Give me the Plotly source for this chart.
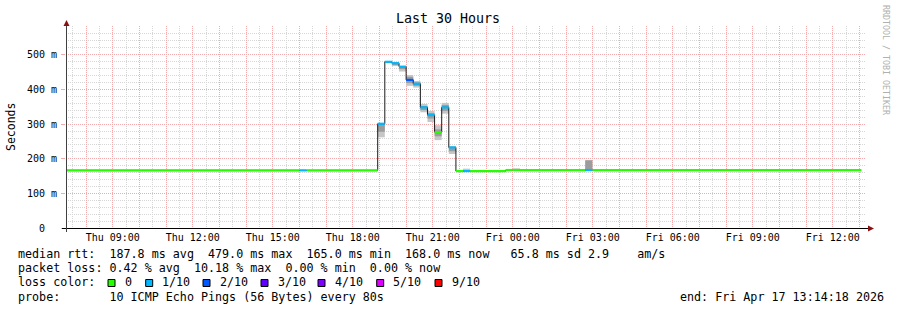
import plotly.graph_objects as go
import pandas as pd

# ---------------- data ----------------
bin_edges = [
    "2026-04-16 07:14:42", "2026-04-16 16:00:00", "2026-04-16 16:16:00",
    "2026-04-16 18:56:00", "2026-04-16 19:12:00", "2026-04-16 19:28:00",
    "2026-04-16 19:44:00", "2026-04-16 20:00:00", "2026-04-16 20:16:00",
    "2026-04-16 20:32:00", "2026-04-16 20:48:00", "2026-04-16 21:04:00",
    "2026-04-16 21:20:00", "2026-04-16 21:36:00", "2026-04-16 21:52:00",
    "2026-04-16 22:08:00", "2026-04-16 22:24:00", "2026-04-16 23:44:00",
    "2026-04-17 00:00:00", "2026-04-17 00:16:00", "2026-04-17 02:43:00",
    "2026-04-17 02:59:00", "2026-04-17 13:04:00",
]
median_ms = [167, 167, 167, 301, 479, 475, 465, 427, 416, 348, 326,
             277, 348, 233, 165, 165, 165, 168, 168, 168, 168, 168]
loss_idx = [0, 1, 0, 1, 1, 1, 1, 2, 1, 1, 1,
            0, 1, 1, 0, 1, 0, 0, 0, 0, 1, 0]
smoke_lo = [None, None, None, 262, 476, 467, 451, 410, 405, 334, 306,
            254, 330, 214, None, 163, None, None, 168, None, 168, None]
smoke_hi = [None, None, None, 301, 480, 476, 467, 441, 424, 358, 338,
            297, 361, 236, None, 172, None, None, 173, None, 196, None]
core_lo = [None, None, None, 278, None, 470, 458, 418, 410, 340, 316,
           265, 338, 222, None, None, None, None, None, None, 168, None]
core_hi = [None, None, None, 301, None, 475, 466, 436, 420, 352, 332,
           285, 355, 234, None, None, None, None, None, None, 196, None]

loss_labels = ["0", "1/10", "2/10", "3/10", "4/10", "5/10", "9/10"]
loss_colors = ["#26ff00", "#00b8ff", "#0059ff", "#5e00ff", "#7e00ff", "#dd00ff", "#ff0000"]

y_tickvals = [0, 100, 200, 300, 400, 500]
y_ticktext = ["0\u00a0\u00a0", "100 m", "200 m", "300 m", "400 m", "500 m"]
y_range = [-1.44, 581.9]

x_start = "2026-04-16 07:14:42"
x_end = "2026-04-17 13:14:42"

title_text = "Last 30 Hours"
y_title = "Seconds"
stat_lines = [
    "median rtt:  187.8 ms avg  479.0 ms max  165.0 ms min  168.0 ms now   65.8 ms sd 2.9    am/s",
    "packet loss: 0.42 % avg  10.18 % max  0.00 % min  0.00 % now",
    "loss color:",
    "probe:       10 ICMP Echo Pings (56 Bytes) every 80s",
]
end_text = "end: Fri Apr 17 13:14:18 2026"
watermark = "RRDTOOL / TOBI OETIKER"

# ---------------- layout geometry (pixels) ----------------
W, H = 897, 310
PL, PR, PT, PB = 66, 866, 26, 229
MONO = "DejaVu Sans Mono"


def px(x):
    return (x - PL) / (PR - PL)


def py(y):
    return (PB - y) / (PB - PT)


t = pd.to_datetime(bin_edges)
starts = list(t[:-1])
dur_ms = [(t[i + 1] - t[i]).total_seconds() * 1000 for i in range(len(t) - 1)]

fig = go.Figure()


def smoke_trace(lo, hi, color):
    ys = [None if (a is None or b is None) else b - a for a, b in zip(lo, hi)]
    return go.Bar(x=starts, y=ys, base=lo, width=dur_ms, offset=0,
                  marker=dict(color=color, line=dict(width=0)),
                  hoverinfo="skip", showlegend=False)


fig.add_trace(smoke_trace(smoke_lo, smoke_hi, "#c6c6c6"))
fig.add_trace(smoke_trace(core_lo, core_hi, "#9c9c9c"))

# thin black median step line
fig.add_trace(go.Scatter(x=list(t), y=median_ms + [median_ms[-1]], mode="lines",
                         line=dict(color="#1a1a1a", width=1, shape="hv"),
                         hoverinfo="skip", showlegend=False))

# coloured median segments by loss
for k, col in enumerate(loss_colors):
    xs, ys = [], []
    for i, m in enumerate(median_ms):
        if loss_idx[i] == k:
            xs += [t[i], t[i + 1], None]
            ys += [m, m, None]
    if xs:
        fig.add_trace(go.Scatter(x=xs, y=ys, mode="lines",
                                 line=dict(color=col, width=2.2),
                                 hoverinfo="skip", showlegend=False))

# invisible traces carrying the overlay axes (labels / hourly grid)
for ax in ("x2", "x3"):
    fig.add_trace(go.Scatter(x=[x_start], y=[0], xaxis=ax, mode="markers",
                             marker=dict(opacity=0), hoverinfo="skip", showlegend=False))

RED = "#f4aaaa"
GRAY = "#d6d6d6"
DOT = "1px,1px"
T0 = "2026-04-16 00:00:00"

fig.update_layout(
    width=W, height=H,
    margin=dict(l=PL, r=W - PR, t=PT, b=H - PB, pad=0),
    paper_bgcolor="white", plot_bgcolor="white",
    showlegend=False, barmode="overlay",
    font=dict(family=MONO, size=10, color="#000000"),
    # main axis: half-hour grey grid
    xaxis=dict(type="date", range=[x_start, x_end], tickmode="linear",
               dtick=1800000, tick0=T0, showticklabels=False, ticks="",
               showgrid=True, gridcolor=GRAY, griddash=DOT, gridwidth=1,
               showline=False, zeroline=False, fixedrange=True),
    # overlay: hourly red grid
    xaxis3=dict(type="date", range=[x_start, x_end], overlaying="x", anchor="y",
                tickmode="linear", dtick=3600000, tick0=T0, showticklabels=False,
                ticks="", showgrid=True, gridcolor=RED, griddash=DOT, gridwidth=1,
                showline=False, zeroline=False, fixedrange=True),
    # overlay: 3-hourly labels
    xaxis2=dict(type="date", range=[x_start, x_end], overlaying="x", anchor="y",
                side="bottom", tickmode="linear", dtick=10800000, tick0=T0,
                tickformat="%a %H:%M", showgrid=False, ticks="", showline=False,
                zeroline=False, tickfont=dict(family=MONO, size=10, color="#000000"),
                ticklabelstandoff=1, fixedrange=True),
    yaxis=dict(range=y_range, tickmode="array", tickvals=y_tickvals,
               ticktext=y_ticktext, ticks="outside", ticklen=4, tickcolor=RED,
               tickwidth=1, showgrid=True, gridcolor=RED, griddash=DOT, gridwidth=1,
               minor=dict(dtick=20, tick0=0, showgrid=True, gridcolor=GRAY,
                          griddash=DOT, gridwidth=1, ticks=""),
               showline=False, zeroline=False,
               tickfont=dict(family=MONO, size=10, color="#000000"),
               ticklabelstandoff=2, fixedrange=True),
)

ARROW = "#8b1010"
shapes = [
    dict(type="line", xref="paper", yref="paper", x0=px(62), x1=px(869),
         y0=py(228.5), y1=py(228.5), line=dict(color="#000000", width=1), layer="above"),
    dict(type="line", xref="paper", yref="paper", x0=px(66.5), x1=px(66.5),
         y0=py(232), y1=py(25), line=dict(color="#404040", width=1), layer="above"),
    dict(type="path", xref="paper", yref="paper",
         path=f"M {px(868)},{py(225.5)} L {px(874)},{py(228.5)} L {px(868)},{py(231.5)} Z",
         fillcolor=ARROW, line=dict(color=ARROW, width=0), layer="above"),
    dict(type="path", xref="paper", yref="paper",
         path=f"M {px(63.5)},{py(26)} L {px(66.5)},{py(20)} L {px(69.5)},{py(26)} Z",
         fillcolor=ARROW, line=dict(color=ARROW, width=0), layer="above"),
]

annotations = [
    dict(text=title_text, x=px(448), y=py(19), xref="paper", yref="paper",
         xanchor="center", yanchor="middle", showarrow=False,
         font=dict(family=MONO, size=13.3, color="#000000")),
    dict(text=y_title, x=px(11), y=py(127), xref="paper", yref="paper",
         xanchor="center", yanchor="middle", textangle=-90, showarrow=False,
         font=dict(family=MONO, size=11.5, color="#000000")),
    dict(text=watermark, x=px(886), y=py(60), xref="paper", yref="paper",
         xanchor="center", yanchor="middle", textangle=90, showarrow=False,
         font=dict(family=MONO, size=8.3, color="#b0b0b0")),
    dict(text=end_text, x=px(678), y=py(296.5), xref="paper", yref="paper",
         xanchor="left", yanchor="middle", showarrow=False,
         font=dict(family=MONO, size=11.7, color="#000000")),
]
row_y = [254.3, 268.3, 282.3, 296.5]
for line, yy in zip(stat_lines, row_y):
    annotations.append(dict(text=line.replace(" ", "\u00a0"), x=px(15.5), y=py(yy),
                            xref="paper", yref="paper", xanchor="left",
                            yanchor="middle", showarrow=False,
                            font=dict(family=MONO, size=11.7, color="#000000")))

box_x = [108, 145.7, 203, 261, 318, 376.7, 435]
for bx, lab, col in zip(box_x, loss_labels, loss_colors):
    shapes.append(dict(type="rect", xref="paper", yref="paper",
                       x0=px(bx), x1=px(bx + 7), y0=py(286.5), y1=py(279.5),
                       fillcolor=col, line=dict(color="#000000", width=1)))
    annotations.append(dict(text=lab, x=px(bx + 14.5), y=py(282.3), xref="paper",
                            yref="paper", xanchor="left", yanchor="middle",
                            showarrow=False,
                            font=dict(family=MONO, size=11.7, color="#000000")))

fig.update_layout(shapes=shapes, annotations=annotations)

# render the dotted grid without anti-aliasing, like the pixel-snapped original
crisp_js = """
var gd = document.getElementById('{plot_id}');
function crisp() {
  gd.querySelectorAll('.gridlayer path, .minor-gridlayer path').forEach(function (p) {
    p.style.shapeRendering = 'crispEdges';
  });
}
crisp();
setTimeout(crisp, 0);
if (gd.on) { gd.on('plotly_afterplot', crisp); }
"""
fig.write_html("out.html", post_script=crisp_js)
